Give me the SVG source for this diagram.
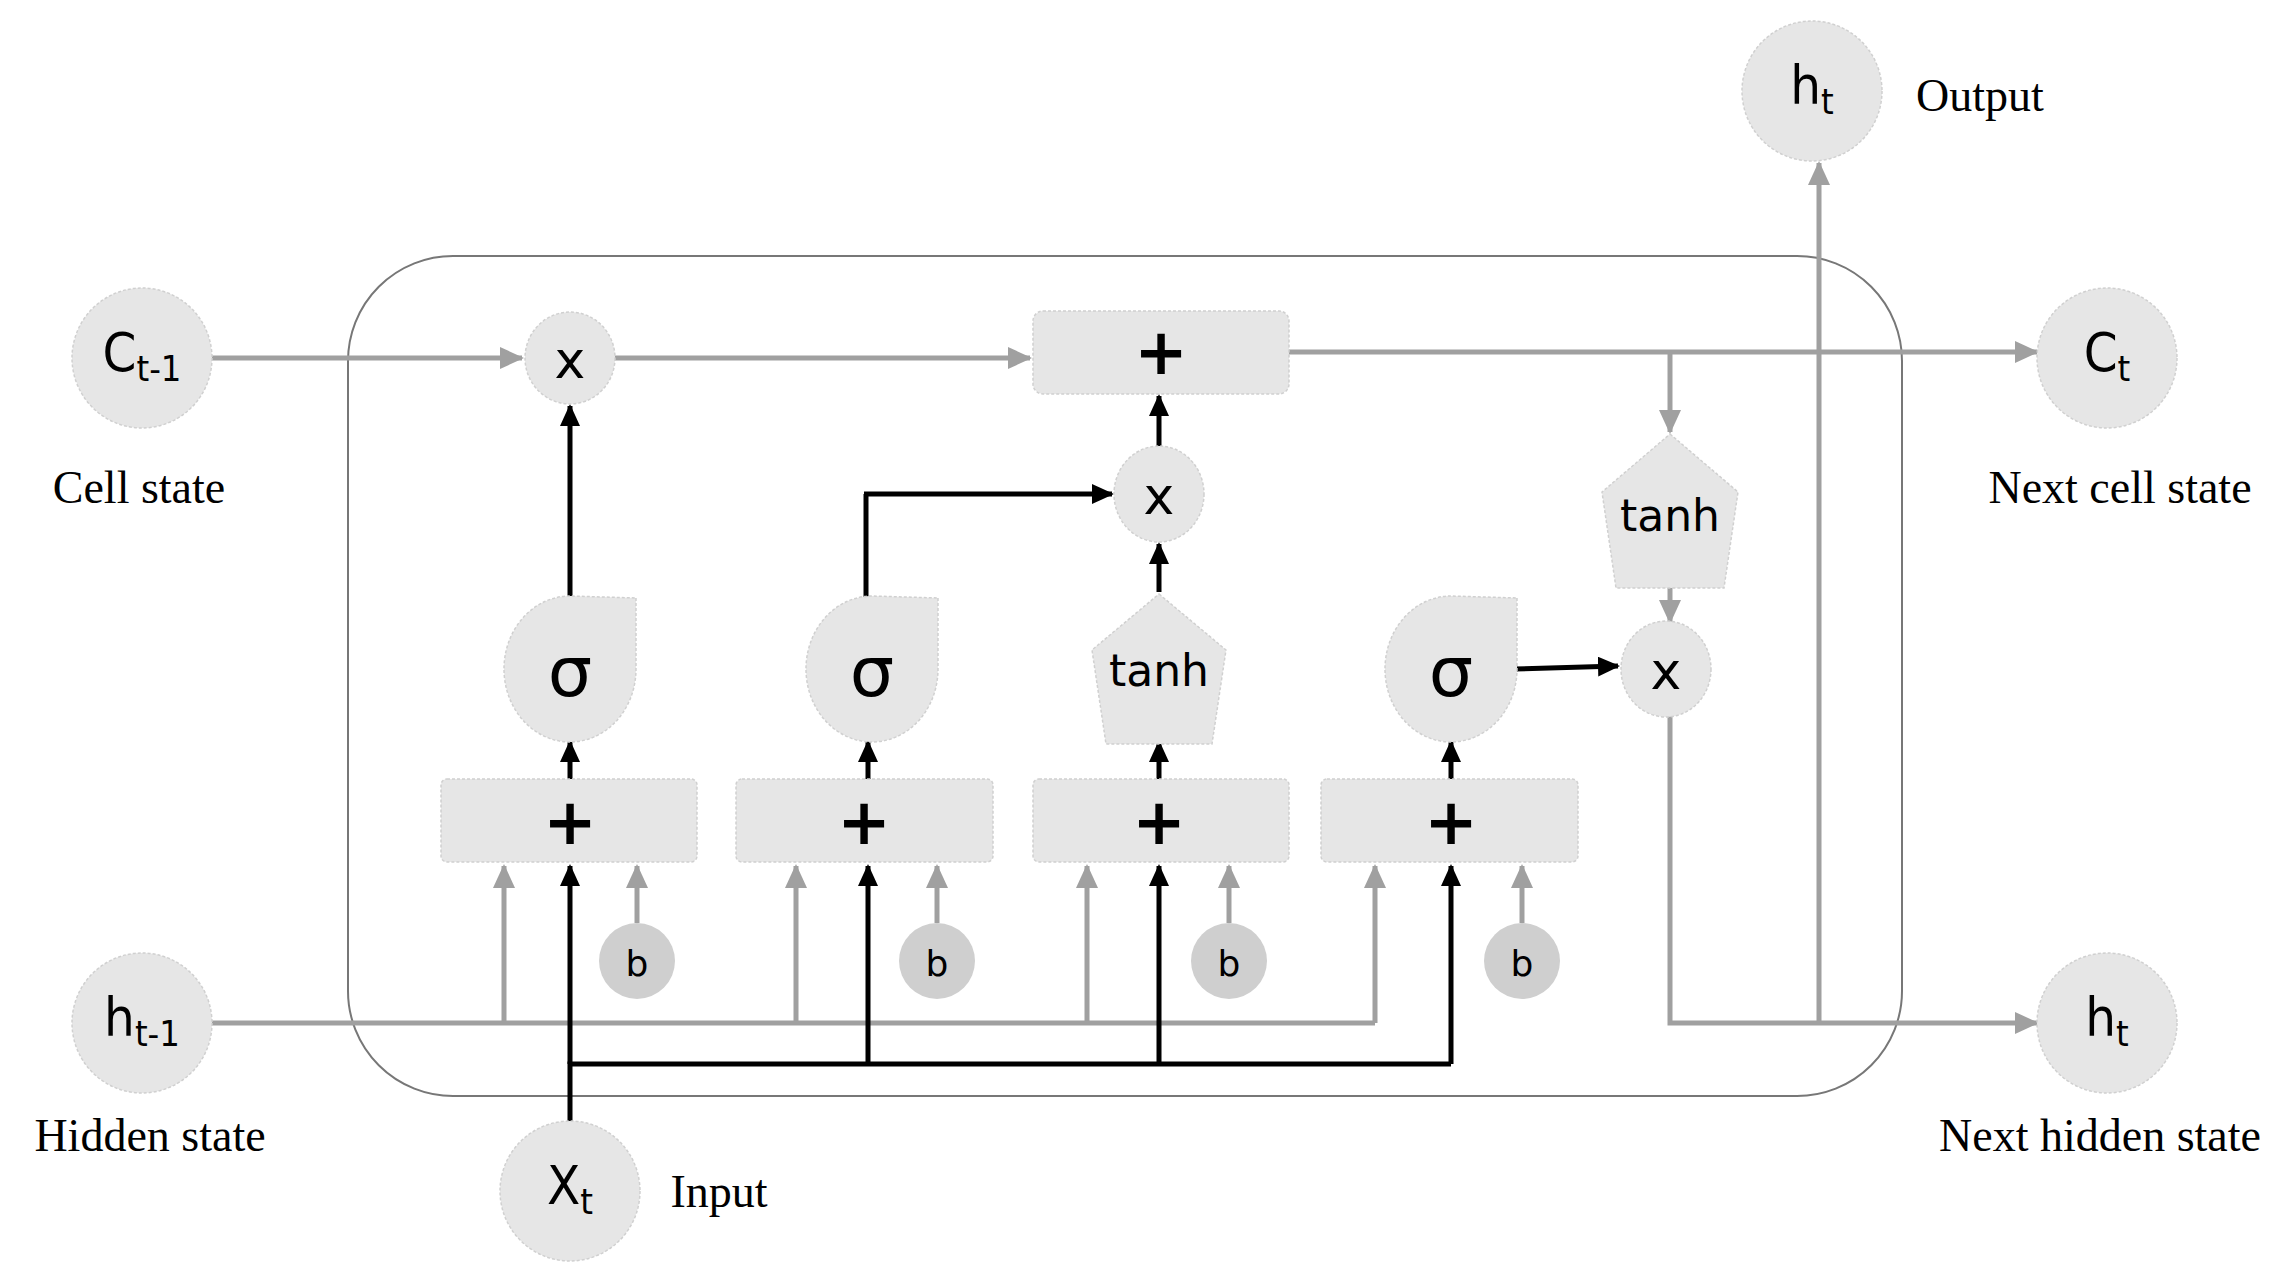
<svg xmlns="http://www.w3.org/2000/svg" width="2291" height="1277" viewBox="0 0 2291 1277">
<defs>
<marker id="ab" markerWidth="22" markerHeight="20" refX="20" refY="10" orient="auto" markerUnits="userSpaceOnUse" viewBox="0 0 22 20"><path d="M0,0 L22,10 L0,20 Z" fill="#000"/></marker>
<marker id="agl" markerWidth="24" markerHeight="22" refX="22" refY="11" orient="auto" markerUnits="userSpaceOnUse" viewBox="0 0 24 22"><path d="M0,0 L24,11 L0,22 Z" fill="#a0a0a0"/></marker>
</defs>
<style>
.n{fill:#e6e6e6;stroke:#d0d0d0;stroke-width:1.5;stroke-dasharray:3 2}
.g{stroke:#a0a0a0;stroke-width:5;fill:none;marker-end:url(#agl)}
.gp{stroke:#a0a0a0;stroke-width:5;fill:none}
.b{stroke:#000;stroke-width:5;fill:none;marker-end:url(#ab)}
.bp{stroke:#000;stroke-width:5;fill:none}
.sym{font-family:"DejaVu Sans",sans-serif;text-anchor:middle;dominant-baseline:central;fill:#000}
.lab{font-family:"Liberation Serif",serif;font-size:46px;text-anchor:middle;dominant-baseline:central;fill:#000}
.nl{font-family:"DejaVu Sans Condensed","DejaVu Sans",sans-serif;font-size:54px;text-anchor:middle;dominant-baseline:central;fill:#000}
</style>
<rect x="348" y="256" width="1554" height="840" rx="105" fill="none" stroke="#777" stroke-width="2"/>
<g id="connectors">
<path class="g" d="M212,358 L522,358"/>
<path class="g" d="M615,358 L1030,358"/>
<path class="g" d="M1289,352 L2037,352"/>
<path class="g" d="M1670,352 L1670,432"/>
<path class="g" d="M1670,588 L1670,622"/>
<path class="gp" d="M1670,714 L1670,1023 L1819,1023"/>
<path class="g" d="M1819,1023 L2037,1023"/>
<path class="g" d="M1819,1023 L1819,163"/>
<path class="gp" d="M212,1023 L1375,1023"/>
<path class="g" d="M504,1023 L504,866"/>
<path class="g" d="M796,1023 L796,866"/>
<path class="g" d="M1087,1023 L1087,866"/>
<path class="g" d="M1375,1023 L1375,866"/>
<path class="g" d="M637,923 L637,866"/>
<path class="g" d="M937,923 L937,866"/>
<path class="g" d="M1229,923 L1229,866"/>
<path class="g" d="M1522,923 L1522,866"/>
<path class="bp" d="M570,1121 L570,1064 L1451,1064"/>
<path class="b" d="M570,1064 L570,866"/>
<path class="b" d="M868,1064 L868,866"/>
<path class="b" d="M1159,1064 L1159,866"/>
<path class="b" d="M1451,1064 L1451,866"/>
<path class="b" d="M570,779 L570,742"/>
<path class="b" d="M868,779 L868,742"/>
<path class="b" d="M1159,779 L1159,742"/>
<path class="b" d="M1451,779 L1451,742"/>
<path class="b" d="M570,596 L570,406"/>
<path class="bp" d="M866,600 L866,494"/>
<path class="b" d="M864,494 L1112,494"/>
<path class="b" d="M1159,592 L1159,544"/>
<path class="b" d="M1159,446 L1159,396"/>
<path class="b" d="M1514,669 L1618,666"/>
</g>
<g id="Ct-1"><circle class="n" cx="142" cy="358" r="70"/><text class="nl" x="142" y="352">C<tspan font-size="36" dy="16">t-1</tspan></text><text class="lab" x="139" y="487">Cell state</text></g>
<g id="ht-1"><circle class="n" cx="142" cy="1023" r="70"/><text class="nl" x="142" y="1017">h<tspan font-size="36" dy="16">t-1</tspan></text><text class="lab" x="150" y="1135">Hidden state</text></g>
<g id="Xt"><circle class="n" cx="570" cy="1191" r="70"/><text class="nl" x="570" y="1185">X<tspan font-size="36" dy="16">t</tspan></text><text class="lab" x="719" y="1191">Input</text></g>
<g id="ht-out"><circle class="n" cx="1812" cy="91" r="70"/><text class="nl" x="1812" y="85">h<tspan font-size="36" dy="16">t</tspan></text><text class="lab" x="1980" y="95">Output</text></g>
<g id="Ct"><circle class="n" cx="2107" cy="358" r="70"/><text class="nl" x="2107" y="352">C<tspan font-size="36" dy="16">t</tspan></text><text class="lab" x="2120" y="487">Next cell state</text></g>
<g id="ht"><circle class="n" cx="2107" cy="1023" r="70"/><text class="nl" x="2107" y="1017">h<tspan font-size="36" dy="16">t</tspan></text><text class="lab" x="2100" y="1135">Next hidden state</text></g>
<g id="mul-forget"><ellipse class="n" cx="570" cy="358" rx="45" ry="46"/><text class="sym" x="570" y="360" font-size="52">x</text></g>
<g id="add-cell"><rect class="n" x="1033" y="311" width="256" height="83" rx="10"/><text class="sym" x="1161" y="352" font-size="64" font-weight="bold">+</text></g>
<g id="mul-input"><ellipse class="n" cx="1159" cy="494" rx="45" ry="48"/><text class="sym" x="1159" y="496" font-size="52">x</text></g>
<g id="tanh-out"><polygon class="n" points="1670,434 1738,492 1724,588 1616,588 1602,492"/><text class="sym" x="1670" y="515" font-size="44">tanh</text></g>
<g id="mul-out"><ellipse class="n" cx="1666" cy="669" rx="45" ry="48"/><text class="sym" x="1666" y="671" font-size="52">x</text></g>
<g id="sig1"><path class="n" d="M636,598 L636,669 A66,73 0 1 1 570,596 Z"/><text class="sym" x="570" y="672" font-size="70">σ</text></g>
<g id="sig2"><path class="n" d="M938,598 L938,669 A66,73 0 1 1 872,596 Z"/><text class="sym" x="872" y="672" font-size="70">σ</text></g>
<g id="tanh-in"><polygon class="n" points="1159,594 1226,650 1212,744 1106,744 1092,650"/><text class="sym" x="1159" y="670" font-size="44">tanh</text></g>
<g id="sig3"><path class="n" d="M1517,598 L1517,669 A66,73 0 1 1 1451,596 Z"/><text class="sym" x="1451" y="672" font-size="70">σ</text></g>
<g id="add1"><rect class="n" x="441" y="779" width="256" height="83" rx="6"/><text class="sym" x="570" y="822" font-size="64" font-weight="bold">+</text></g>
<g id="add2"><rect class="n" x="736" y="779" width="257" height="83" rx="6"/><text class="sym" x="864" y="822" font-size="64" font-weight="bold">+</text></g>
<g id="add3"><rect class="n" x="1033" y="779" width="256" height="83" rx="6"/><text class="sym" x="1159" y="822" font-size="64" font-weight="bold">+</text></g>
<g id="add4"><rect class="n" x="1321" y="779" width="257" height="83" rx="6"/><text class="sym" x="1451" y="822" font-size="64" font-weight="bold">+</text></g>
<g id="b1"><circle cx="637" cy="961" r="38" fill="#cfcfcf"/><text class="sym" x="637" y="963" font-size="36">b</text></g>
<g id="b2"><circle cx="937" cy="961" r="38" fill="#cfcfcf"/><text class="sym" x="937" y="963" font-size="36">b</text></g>
<g id="b3"><circle cx="1229" cy="961" r="38" fill="#cfcfcf"/><text class="sym" x="1229" y="963" font-size="36">b</text></g>
<g id="b4"><circle cx="1522" cy="961" r="38" fill="#cfcfcf"/><text class="sym" x="1522" y="963" font-size="36">b</text></g>
</svg>
